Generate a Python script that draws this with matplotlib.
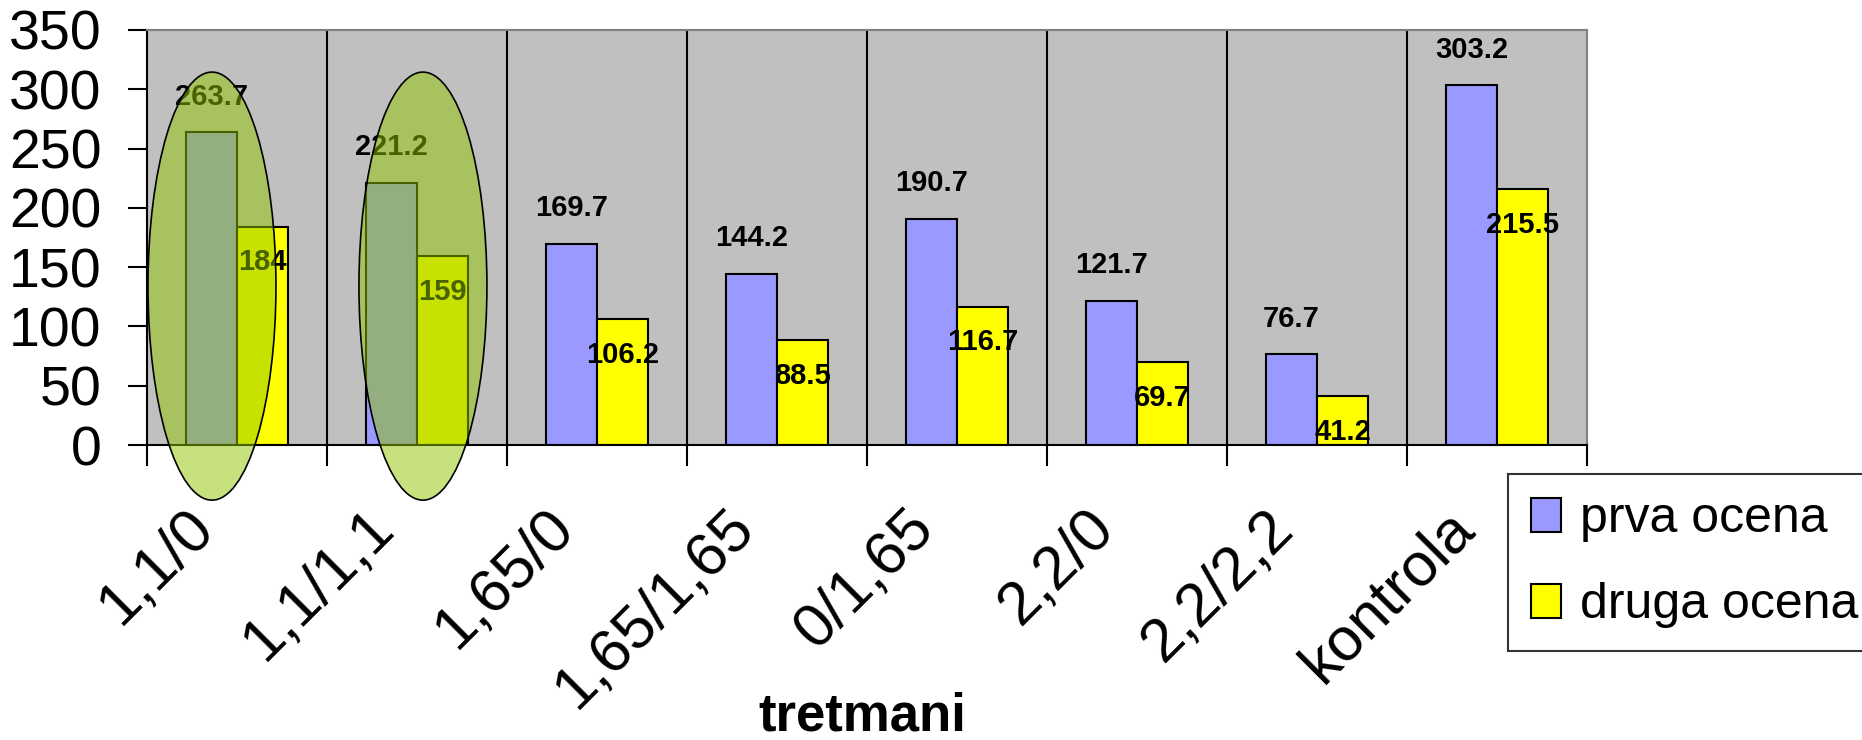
import matplotlib
matplotlib.use("Agg")
import matplotlib.pyplot as plt
from matplotlib.patches import Ellipse
from matplotlib.transforms import ScaledTranslation
import numpy as np

categories = ['1,1/0', '1,1/1,1', '1,65/0', '1,65/1,65', '0/1,65', '2,2/0', '2,2/2,2', 'kontrola']
prva = [263.7, 221.2, 169.7, 144.2, 190.7, 121.7, 76.7, 303.2]
druga = [184, 159, 106.2, 88.5, 116.7, 69.7, 41.2, 215.5]
series_names = ['prva ocena', 'druga ocena']
highlighted = [0, 1]

plt.rcParams['font.family'] = ['Liberation Sans', 'DejaVu Sans']

fig = plt.figure(figsize=(18.62, 7.40), dpi=100)
ax = fig.add_axes([147/1862, 295/740, 1440/1862, 415/740])
ax.set_facecolor('#C0C0C0')

x = np.arange(len(categories))
w = 0.285
b1 = ax.bar(x - 0.1425, prva, w, color='#9999FF', edgecolor='black', linewidth=1.5,
            label=series_names[0], zorder=2)
b2 = ax.bar(x + 0.1425, druga, w, color='#FFFF00', edgecolor='black', linewidth=1.5,
            label=series_names[1], zorder=2)

# value labels
for xi, v in zip(x, prva):
    ax.annotate('%g' % v, (xi - 0.1425, v), xytext=(0, 25.6), textcoords='offset points',
                ha='center', va='center', fontsize=21, fontweight='bold', zorder=3)
for xi, v in zip(x, druga):
    ax.annotate('%g' % v, (xi + 0.1425, v), xytext=(0, -25.6), textcoords='offset points',
                ha='center', va='center', fontsize=21, fontweight='bold', zorder=3)

# highlight ellipses
for i, dx in zip(highlighted, [-0.139, 0.033]):
    e = Ellipse((i + dx, 134), 0.711, 361, facecolor=(145/255, 197/255, 0, 0.5),
                edgecolor='black', linewidth=1.2, clip_on=False, zorder=4)
    ax.add_patch(e)

ax.set_xlim(-0.5, len(categories) - 0.5)
ax.set_ylim(0, 350)
ax.set_yticks(np.arange(0, 351, 50))
ax.tick_params(axis='y', direction='out', length=13.7, width=1.5, pad=19, labelsize=40)

# category ticks: labels at centres, tick marks at boundaries
ax.set_xticks(x)
ax.set_xticklabels(categories, rotation=45, ha='right', va='top', rotation_mode='anchor',
                   fontsize=44)
ax.tick_params(axis='x', which='major', length=0, pad=39)
ax.set_xticks(np.arange(-0.5, len(categories), 1.0), minor=True)
ax.tick_params(axis='x', which='minor', direction='out', length=15, width=1.5)
offset = ScaledTranslation(-0.52, 0, fig.dpi_scale_trans)
for lab in ax.get_xticklabels():
    lab.set_transform(lab.get_transform() + offset)

for b in np.arange(0.5, len(categories) - 1, 1.0):
    ax.axvline(b, color='black', linewidth=1.5, zorder=1)

for s in ['top', 'right']:
    ax.spines[s].set_color('#808080')
    ax.spines[s].set_linewidth(1.5)
for s in ['left', 'bottom']:
    ax.spines[s].set_color('black')
    ax.spines[s].set_linewidth(1.5)

ax.set_xlabel('tretmani', fontsize=38, fontweight='bold')
ax.xaxis.set_label_coords(0.4965, -0.655)
ax.xaxis.label.set_va('center')

leg = fig.legend(handles=[b1, b2], loc='upper left', bbox_to_anchor=(1508/1862, 1 - 474/740),
                 fontsize=36, frameon=True, fancybox=False, edgecolor='black',
                 handlelength=0.6, handleheight=0.66, handletextpad=0.38,
                 borderpad=0.45, labelspacing=0.8, borderaxespad=0)
leg.get_frame().set_linewidth(1.5)

fig.savefig('out.png', dpi=100)
